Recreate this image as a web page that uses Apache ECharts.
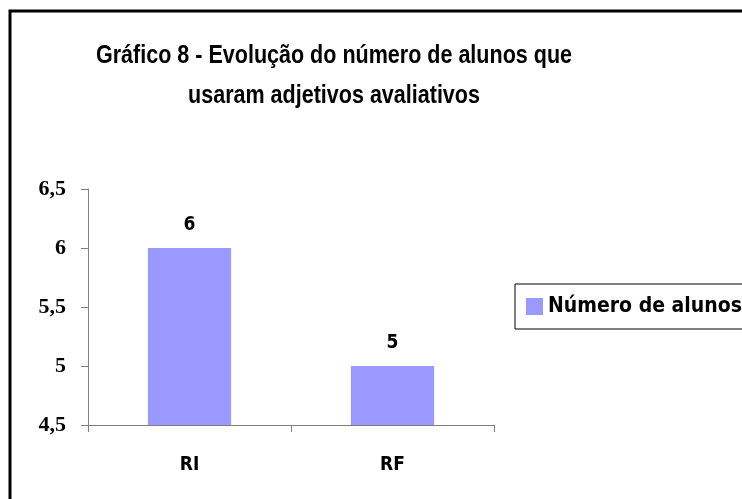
<!DOCTYPE html>
<html><head><meta charset="utf-8">
<script src="https://cdn.jsdelivr.net/npm/echarts@6/dist/echarts.min.js"></script>
<style>html,body{margin:0;padding:0;background:#fff}#c{width:742px;height:499px}</style>
</head><body><div id="c"></div>
<script>
const categories = ['RI', 'RF'];
const seriesName = 'Número de alunos';
const values = [6, 5];
const yMin = 4.5, yMax = 6.5, yStep = 0.5;
const titleLines = ['Gráfico 8 - Evolução do número de alunos que', 'usaram adjetivos avaliativos'];

const narrow = '"DejaVu Sans Condensed", sans-serif';
const titleFont = 'bold 26px "Liberation Sans", Arial, sans-serif';
const ctx = document.createElement('canvas').getContext('2d');
ctx.font = titleFont;
const titleScale = 476 / ctx.measureText(titleLines[0]).width;

const chart = echarts.init(document.getElementById('c'), null, {renderer: 'canvas'});
chart.setOption({
  animation: false,
  backgroundColor: '#fff',
  graphic: [
    {type: 'rect', shape: {x: 10, y: 11, width: 900, height: 700},
     style: {fill: 'none', stroke: '#000', lineWidth: 3}, z: 100},
    {type: 'text', x: 334, y: 56, scaleX: titleScale,
     style: {text: titleLines[0], font: titleFont, fill: '#000', align: 'center', verticalAlign: 'middle'}},
    {type: 'text', x: 334, y: 96, scaleX: titleScale,
     style: {text: titleLines[1], font: titleFont, fill: '#000', align: 'center', verticalAlign: 'middle'}}
  ],
  legend: {
    left: 515, top: 284, orient: 'vertical',
    padding: [12, 30, 12, 11],
    borderColor: '#000', borderWidth: 1,
    itemWidth: 17, itemHeight: 17,
    icon: 'rect',
    textStyle: {fontFamily: narrow, fontSize: 21, fontWeight: 'bold', color: '#000', padding: [0,0,0,0]},
    data: [seriesName]
  },
  grid: {left: 88, right: 248, top: 189, bottom: 74, containLabel: false},
  xAxis: {
    type: 'category', data: categories,
    axisLine: {lineStyle: {color: '#808080', width: 1}},
    axisTick: {show: true, length: 7, lineStyle: {color: '#808080'}},
    axisLabel: {fontFamily: narrow, fontSize: 19, fontWeight: 'bold', color: '#000', margin: 31}
  },
  yAxis: {
    type: 'value', min: yMin, max: yMax, interval: yStep,
    axisLine: {show: true, lineStyle: {color: '#808080', width: 1}},
    axisTick: {show: true, length: 7, lineStyle: {color: '#808080'}},
    splitLine: {show: false},
    axisLabel: {
      fontFamily: '"Liberation Serif", "DejaVu Serif", serif', fontSize: 22, fontWeight: 'bold', color: '#000', margin: 22,
      padding: [0, 0, 8, 0],
      formatter: v => String(v).replace('.', ',')
    }
  },
  series: [{
    name: seriesName, type: 'bar', data: values, barWidth: '41%',
    itemStyle: {color: '#9999FF'},
    label: {show: true, position: 'top', distance: 13, fontFamily: narrow, fontSize: 19, fontWeight: 'bold', color: '#000'}
  }]
});
</script></body></html>
